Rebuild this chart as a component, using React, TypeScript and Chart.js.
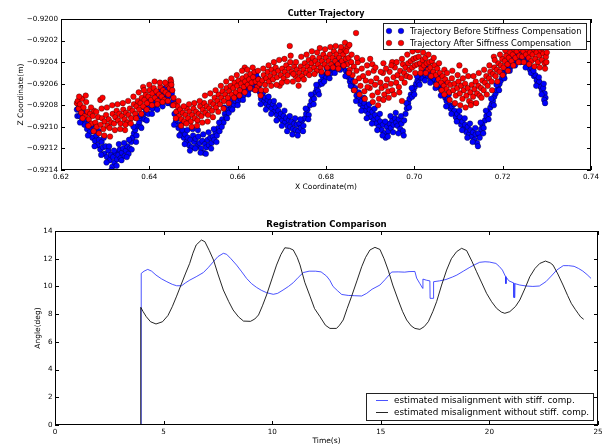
import React, { useEffect, useRef } from 'react';
import { Chart, registerables } from 'chart.js';

Chart.register(...registerables);

const FONT = '"DejaVu Sans", "Liberation Sans", sans-serif';

// ---------- Cutter Trajectory: [X coordinate (m), Z coordinate (m)] ----------
const beforeTrajectory: [number, number][] = [
  [0.6236, -0.92084], [0.6237, -0.92090], [0.6240, -0.92082], [0.6242, -0.92090], [0.6245, -0.92086], [0.6248, -0.92094],
  [0.6250, -0.92088], [0.6253, -0.92098], [0.6256, -0.92093], [0.6259, -0.92102], [0.6262, -0.92097], [0.6265, -0.92105],
  [0.6268, -0.92100], [0.6271, -0.92110], [0.6274, -0.92104], [0.6277, -0.92113], [0.6280, -0.92108], [0.6283, -0.92117],
  [0.6286, -0.92112], [0.6289, -0.92121], [0.6292, -0.92114], [0.6295, -0.92119], [0.6298, -0.92125], [0.6301, -0.92118],
  [0.6304, -0.92128], [0.6307, -0.92122], [0.6310, -0.92131], [0.6313, -0.92126], [0.6316, -0.92137], [0.6318, -0.92128],
  [0.6321, -0.92133], [0.6324, -0.92124], [0.6327, -0.92130], [0.6330, -0.92126], [0.6333, -0.92121], [0.6335, -0.92129],
  [0.6338, -0.92124], [0.6341, -0.92120], [0.6344, -0.92127], [0.6347, -0.92122], [0.6350, -0.92118], [0.6353, -0.92125],
  [0.6356, -0.92120], [0.6359, -0.92114], [0.6362, -0.92110], [0.6365, -0.92106], [0.6368, -0.92103], [0.6371, -0.92108],
  [0.6374, -0.92099], [0.6377, -0.92096], [0.6380, -0.92100], [0.6383, -0.92092], [0.6386, -0.92089], [0.6389, -0.92093],
  [0.6392, -0.92086], [0.6395, -0.92083], [0.6398, -0.92088], [0.6401, -0.92081], [0.6404, -0.92078], [0.6407, -0.92083],
  [0.6410, -0.92076], [0.6413, -0.92080], [0.6416, -0.92074], [0.6419, -0.92079], [0.6422, -0.92073], [0.6425, -0.92077],
  [0.6428, -0.92071], [0.6431, -0.92076], [0.6434, -0.92070], [0.6437, -0.92074], [0.6440, -0.92068], [0.6443, -0.92072],
  [0.6446, -0.92066], [0.6449, -0.92063], [0.6451, -0.92069], [0.6454, -0.92076], [0.6457, -0.92088], [0.6460, -0.92095],
  [0.6463, -0.92092], [0.6466, -0.92101], [0.6469, -0.92098], [0.6472, -0.92106], [0.6475, -0.92103], [0.6478, -0.92110],
  [0.6481, -0.92107], [0.6484, -0.92114], [0.6487, -0.92110], [0.6490, -0.92117], [0.6493, -0.92112], [0.6496, -0.92119],
  [0.6499, -0.92108], [0.6502, -0.92114], [0.6505, -0.92111], [0.6508, -0.92118], [0.6511, -0.92109], [0.6514, -0.92115],
  [0.6517, -0.92120], [0.6520, -0.92113], [0.6523, -0.92124], [0.6526, -0.92116], [0.6529, -0.92119], [0.6532, -0.92112],
  [0.6535, -0.92117], [0.6538, -0.92110], [0.6541, -0.92115], [0.6544, -0.92109], [0.6547, -0.92112], [0.6550, -0.92105],
  [0.6553, -0.92108], [0.6556, -0.92101], [0.6559, -0.92104], [0.6562, -0.92097], [0.6565, -0.92093], [0.6568, -0.92096],
  [0.6571, -0.92088], [0.6574, -0.92091], [0.6577, -0.92084], [0.6580, -0.92087], [0.6583, -0.92080], [0.6586, -0.92083],
  [0.6589, -0.92077], [0.6592, -0.92080], [0.6595, -0.92076], [0.6598, -0.92073], [0.6601, -0.92076], [0.6604, -0.92071],
  [0.6607, -0.92074], [0.6610, -0.92068], [0.6613, -0.92071], [0.6616, -0.92065], [0.6619, -0.92068], [0.6622, -0.92063],
  [0.6625, -0.92066], [0.6628, -0.92060], [0.6631, -0.92063], [0.6634, -0.92058], [0.6637, -0.92061], [0.6640, -0.92056],
  [0.6643, -0.92059], [0.6646, -0.92055], [0.6650, -0.92068], [0.6653, -0.92074], [0.6656, -0.92071], [0.6659, -0.92077],
  [0.6662, -0.92073], [0.6665, -0.92079], [0.6668, -0.92075], [0.6671, -0.92081], [0.6674, -0.92077], [0.6677, -0.92083],
  [0.6680, -0.92079], [0.6683, -0.92086], [0.6686, -0.92082], [0.6689, -0.92089], [0.6692, -0.92085], [0.6695, -0.92092],
  [0.6698, -0.92088], [0.6701, -0.92094], [0.6704, -0.92090], [0.6707, -0.92096], [0.6710, -0.92092], [0.6713, -0.92099],
  [0.6716, -0.92094], [0.6719, -0.92100], [0.6722, -0.92095], [0.6725, -0.92102], [0.6728, -0.92097], [0.6731, -0.92103],
  [0.6734, -0.92098], [0.6737, -0.92104], [0.6740, -0.92097], [0.6743, -0.92101], [0.6746, -0.92094], [0.6749, -0.92099],
  [0.6752, -0.92092], [0.6755, -0.92088], [0.6758, -0.92084], [0.6761, -0.92089], [0.6764, -0.92080], [0.6767, -0.92076],
  [0.6770, -0.92072], [0.6773, -0.92074], [0.6776, -0.92068], [0.6779, -0.92065], [0.6782, -0.92067], [0.6785, -0.92061],
  [0.6788, -0.92058], [0.6791, -0.92060], [0.6794, -0.92055], [0.6797, -0.92052], [0.6800, -0.92054], [0.6803, -0.92050],
  [0.6806, -0.92052], [0.6809, -0.92047], [0.6812, -0.92050], [0.6815, -0.92045], [0.6818, -0.92048], [0.6821, -0.92043],
  [0.6824, -0.92046], [0.6827, -0.92041], [0.6830, -0.92044], [0.6833, -0.92040], [0.6836, -0.92043], [0.6839, -0.92045],
  [0.6842, -0.92042], [0.6845, -0.92048], [0.6848, -0.92051], [0.6851, -0.92054], [0.6854, -0.92058], [0.6857, -0.92056],
  [0.6860, -0.92062], [0.6863, -0.92066], [0.6866, -0.92064], [0.6869, -0.92071], [0.6872, -0.92075], [0.6875, -0.92073],
  [0.6878, -0.92079], [0.6881, -0.92076], [0.6884, -0.92082], [0.6887, -0.92078], [0.6890, -0.92085], [0.6893, -0.92081],
  [0.6896, -0.92088], [0.6899, -0.92084], [0.6902, -0.92091], [0.6905, -0.92086], [0.6908, -0.92094], [0.6911, -0.92089],
  [0.6914, -0.92097], [0.6917, -0.92092], [0.6920, -0.92100], [0.6923, -0.92095], [0.6926, -0.92103], [0.6929, -0.92098],
  [0.6932, -0.92106], [0.6935, -0.92110], [0.6938, -0.92100], [0.6941, -0.92104], [0.6944, -0.92097], [0.6947, -0.92101],
  [0.6950, -0.92094], [0.6953, -0.92098], [0.6956, -0.92092], [0.6959, -0.92096], [0.6962, -0.92099], [0.6965, -0.92093],
  [0.6968, -0.92102], [0.6971, -0.92097], [0.6974, -0.92104], [0.6977, -0.92094], [0.6980, -0.92088], [0.6983, -0.92083],
  [0.6986, -0.92078], [0.6989, -0.92074], [0.6992, -0.92070], [0.6995, -0.92072], [0.6998, -0.92066], [0.7001, -0.92063],
  [0.7004, -0.92060], [0.7007, -0.92057], [0.7010, -0.92059], [0.7013, -0.92054], [0.7016, -0.92052], [0.7019, -0.92055],
  [0.7022, -0.92050], [0.7025, -0.92052], [0.7028, -0.92049], [0.7031, -0.92053], [0.7034, -0.92051], [0.7037, -0.92055],
  [0.7040, -0.92053], [0.7043, -0.92057], [0.7046, -0.92056], [0.7049, -0.92060], [0.7052, -0.92058], [0.7055, -0.92063],
  [0.7058, -0.92061], [0.7061, -0.92066], [0.7064, -0.92064], [0.7067, -0.92070], [0.7070, -0.92073], [0.7073, -0.92076],
  [0.7076, -0.92074], [0.7079, -0.92080], [0.7082, -0.92083], [0.7085, -0.92081], [0.7088, -0.92087], [0.7091, -0.92085],
  [0.7094, -0.92091], [0.7097, -0.92088], [0.7100, -0.92094], [0.7103, -0.92091], [0.7106, -0.92098], [0.7109, -0.92095],
  [0.7112, -0.92102], [0.7115, -0.92098], [0.7118, -0.92105], [0.7121, -0.92100], [0.7124, -0.92107], [0.7127, -0.92103],
  [0.7130, -0.92109], [0.7133, -0.92105], [0.7136, -0.92112], [0.7139, -0.92107], [0.7142, -0.92115], [0.7145, -0.92106],
  [0.7148, -0.92110], [0.7151, -0.92102], [0.7154, -0.92098], [0.7157, -0.92101], [0.7160, -0.92094], [0.7163, -0.92090],
  [0.7166, -0.92086], [0.7169, -0.92088], [0.7172, -0.92082], [0.7175, -0.92079], [0.7178, -0.92076], [0.7181, -0.92072],
  [0.7184, -0.92069], [0.7187, -0.92066], [0.7190, -0.92062], [0.7193, -0.92060], [0.7196, -0.92057], [0.7199, -0.92054],
  [0.7202, -0.92052], [0.7205, -0.92049], [0.7208, -0.92047], [0.7211, -0.92045], [0.7214, -0.92043], [0.7217, -0.92045],
  [0.7220, -0.92041], [0.7223, -0.92039], [0.7226, -0.92042], [0.7229, -0.92038], [0.7232, -0.92036], [0.7235, -0.92039],
  [0.7238, -0.92036], [0.7241, -0.92034], [0.7244, -0.92037], [0.7247, -0.92039], [0.7250, -0.92037], [0.7253, -0.92041],
  [0.7256, -0.92039], [0.7259, -0.92044], [0.7262, -0.92047], [0.7265, -0.92045], [0.7268, -0.92050], [0.7271, -0.92053],
  [0.7274, -0.92052], [0.7277, -0.92057], [0.7280, -0.92060], [0.7283, -0.92058], [0.7286, -0.92063], [0.7289, -0.92066],
  [0.7292, -0.92064], [0.7295, -0.92069], [0.7297, -0.92073], [0.7294, -0.92075],
  // wider scatter of the same run
  [0.6243, -0.92096], [0.6255, -0.92087], [0.6261, -0.92108], [0.6270, -0.92098], [0.6276, -0.92118], [0.6285, -0.92104],
  [0.6291, -0.92126], [0.6297, -0.92110], [0.6303, -0.92133], [0.6309, -0.92118], [0.6314, -0.92140], [0.6320, -0.92122],
  [0.6326, -0.92136], [0.6331, -0.92116], [0.6337, -0.92131], [0.6343, -0.92115], [0.6349, -0.92128], [0.6354, -0.92112],
  [0.6360, -0.92121], [0.6364, -0.92100], [0.6370, -0.92114], [0.6376, -0.92090], [0.6382, -0.92101], [0.6388, -0.92082],
  [0.6394, -0.92094], [0.6400, -0.92074], [0.6406, -0.92088], [0.6412, -0.92070], [0.6418, -0.92084], [0.6424, -0.92067],
  [0.6430, -0.92081], [0.6436, -0.92064], [0.6442, -0.92078], [0.6448, -0.92059], [0.6452, -0.92080], [0.6456, -0.92098],
  [0.6462, -0.92086], [0.6468, -0.92108], [0.6474, -0.92097], [0.6480, -0.92116], [0.6486, -0.92103], [0.6492, -0.92122],
  [0.6498, -0.92102], [0.6504, -0.92120], [0.6510, -0.92103], [0.6516, -0.92124], [0.6522, -0.92107], [0.6528, -0.92125],
  [0.6534, -0.92105], [0.6540, -0.92120], [0.6546, -0.92102], [0.6552, -0.92114], [0.6558, -0.92096], [0.6564, -0.92100],
  [0.6570, -0.92082], [0.6576, -0.92092], [0.6582, -0.92075], [0.6588, -0.92084], [0.6594, -0.92070], [0.6600, -0.92080],
  [0.6606, -0.92066], [0.6612, -0.92075], [0.6618, -0.92061], [0.6624, -0.92070], [0.6630, -0.92057], [0.6636, -0.92065],
  [0.6642, -0.92052], [0.6648, -0.92062], [0.6652, -0.92079], [0.6658, -0.92068], [0.6664, -0.92084], [0.6670, -0.92072],
  [0.6676, -0.92088], [0.6682, -0.92076], [0.6688, -0.92094], [0.6694, -0.92080], [0.6700, -0.92099], [0.6706, -0.92085],
  [0.6712, -0.92104], [0.6718, -0.92090], [0.6724, -0.92107], [0.6730, -0.92092], [0.6736, -0.92108], [0.6742, -0.92093],
  [0.6748, -0.92104], [0.6754, -0.92083], [0.6760, -0.92093], [0.6766, -0.92070], [0.6772, -0.92079], [0.6778, -0.92061],
  [0.6784, -0.92070], [0.6790, -0.92052], [0.6796, -0.92058], [0.6802, -0.92046], [0.6808, -0.92055], [0.6814, -0.92042],
  [0.6820, -0.92050], [0.6826, -0.92038], [0.6832, -0.92047], [0.6838, -0.92040], [0.6844, -0.92053], [0.6850, -0.92049],
  [0.6856, -0.92062], [0.6862, -0.92058], [0.6868, -0.92076], [0.6874, -0.92068], [0.6880, -0.92085], [0.6886, -0.92073],
  [0.6892, -0.92092], [0.6898, -0.92079], [0.6904, -0.92097], [0.6910, -0.92083], [0.6916, -0.92103], [0.6922, -0.92088],
  [0.6928, -0.92108], [0.6934, -0.92095], [0.6940, -0.92109], [0.6946, -0.92090], [0.6952, -0.92105], [0.6958, -0.92087],
  [0.6964, -0.92106], [0.6970, -0.92090], [0.6976, -0.92108], [0.6982, -0.92078], [0.6988, -0.92082], [0.6994, -0.92064],
  [0.7000, -0.92070], [0.7006, -0.92053], [0.7012, -0.92061], [0.7018, -0.92048], [0.7024, -0.92057], [0.7030, -0.92046],
  [0.7036, -0.92059], [0.7042, -0.92050], [0.7048, -0.92064], [0.7054, -0.92054], [0.7060, -0.92071], [0.7066, -0.92060],
  [0.7072, -0.92081], [0.7078, -0.92070], [0.7084, -0.92088], [0.7090, -0.92079], [0.7096, -0.92095], [0.7102, -0.92085],
  [0.7108, -0.92103], [0.7114, -0.92092], [0.7120, -0.92110], [0.7126, -0.92097], [0.7132, -0.92114], [0.7138, -0.92101],
  [0.7144, -0.92118], [0.7150, -0.92096], [0.7156, -0.92106], [0.7162, -0.92085], [0.7168, -0.92093], [0.7174, -0.92074],
  [0.7180, -0.92080], [0.7186, -0.92061], [0.7192, -0.92066], [0.7198, -0.92050], [0.7204, -0.92055], [0.7210, -0.92041],
  [0.7216, -0.92048], [0.7222, -0.92035], [0.7228, -0.92043], [0.7234, -0.92032], [0.7240, -0.92040], [0.7246, -0.92033],
  [0.7252, -0.92045], [0.7258, -0.92037], [0.7264, -0.92050], [0.7270, -0.92048], [0.7276, -0.92062], [0.7282, -0.92054],
  [0.7288, -0.92070], [0.7293, -0.92060], [0.7296, -0.92078],
];

const afterTrajectory: [number, number][] = [
  [0.6236, -0.92078], [0.6238, -0.92076], [0.6240, -0.92083], [0.6243, -0.92079], [0.6246, -0.92087], [0.6248, -0.92074],
  [0.6251, -0.92082], [0.6254, -0.92090], [0.6257, -0.92077], [0.6260, -0.92086], [0.6263, -0.92093], [0.6266, -0.92088],
  [0.6269, -0.92097], [0.6272, -0.92090], [0.6275, -0.92085], [0.6278, -0.92096], [0.6281, -0.92100], [0.6284, -0.92091],
  [0.6289, -0.92075], [0.6294, -0.92073], [0.6290, -0.92098], [0.6293, -0.92092], [0.6296, -0.92102], [0.6299, -0.92095],
  [0.6302, -0.92089], [0.6305, -0.92099], [0.6308, -0.92093], [0.6311, -0.92109], [0.6314, -0.92096], [0.6317, -0.92088],
  [0.6320, -0.92097], [0.6323, -0.92091], [0.6326, -0.92085], [0.6329, -0.92094], [0.6332, -0.92088], [0.6335, -0.92097],
  [0.6338, -0.92090], [0.6341, -0.92084], [0.6344, -0.92093], [0.6345, -0.92103], [0.6347, -0.92087], [0.6350, -0.92096],
  [0.6353, -0.92089], [0.6356, -0.92083], [0.6359, -0.92092], [0.6362, -0.92085], [0.6365, -0.92079], [0.6368, -0.92088],
  [0.6371, -0.92081], [0.6374, -0.92076], [0.6377, -0.92084], [0.6380, -0.92078], [0.6383, -0.92073], [0.6386, -0.92063],
  [0.6386, -0.92081], [0.6389, -0.92075], [0.6392, -0.92070], [0.6395, -0.92078], [0.6398, -0.92072], [0.6401, -0.92066],
  [0.6404, -0.92075], [0.6407, -0.92069], [0.6410, -0.92064], [0.6413, -0.92073], [0.6416, -0.92067], [0.6419, -0.92076],
  [0.6422, -0.92070], [0.6425, -0.92063], [0.6428, -0.92072], [0.6431, -0.92066], [0.6434, -0.92075], [0.6437, -0.92068],
  [0.6440, -0.92061], [0.6443, -0.92070], [0.6446, -0.92064], [0.6448, -0.92056], [0.6449, -0.92058], [0.6452, -0.92066],
  [0.6455, -0.92073], [0.6458, -0.92079], [0.6461, -0.92086], [0.6464, -0.92081], [0.6467, -0.92090], [0.6470, -0.92084],
  [0.6473, -0.92093], [0.6476, -0.92087], [0.6479, -0.92095], [0.6482, -0.92089], [0.6485, -0.92083], [0.6488, -0.92092],
  [0.6491, -0.92086], [0.6494, -0.92095], [0.6497, -0.92089], [0.6500, -0.92083], [0.6503, -0.92092], [0.6506, -0.92086],
  [0.6509, -0.92094], [0.6512, -0.92088], [0.6515, -0.92081], [0.6518, -0.92090], [0.6521, -0.92084], [0.6524, -0.92078],
  [0.6527, -0.92087], [0.6530, -0.92081], [0.6533, -0.92089], [0.6536, -0.92083], [0.6539, -0.92077], [0.6542, -0.92085],
  [0.6545, -0.92079], [0.6548, -0.92073], [0.6551, -0.92082], [0.6554, -0.92076], [0.6557, -0.92070], [0.6560, -0.92079],
  [0.6563, -0.92073], [0.6566, -0.92067], [0.6569, -0.92076], [0.6572, -0.92070], [0.6575, -0.92064], [0.6578, -0.92073],
  [0.6581, -0.92067], [0.6584, -0.92062], [0.6587, -0.92070], [0.6590, -0.92064], [0.6593, -0.92059], [0.6596, -0.92068],
  [0.6599, -0.92062], [0.6602, -0.92057], [0.6605, -0.92066], [0.6608, -0.92060], [0.6611, -0.92055], [0.6614, -0.92063],
  [0.6616, -0.92045], [0.6617, -0.92058], [0.6620, -0.92053], [0.6623, -0.92061], [0.6626, -0.92056], [0.6629, -0.92051],
  [0.6632, -0.92059], [0.6635, -0.92054], [0.6638, -0.92049], [0.6641, -0.92058], [0.6644, -0.92063], [0.6647, -0.92056],
  [0.6650, -0.92060], [0.6653, -0.92066], [0.6656, -0.92057], [0.6659, -0.92052], [0.6662, -0.92061], [0.6665, -0.92055],
  [0.6668, -0.92049], [0.6671, -0.92058], [0.6674, -0.92053], [0.6677, -0.92047], [0.6680, -0.92056], [0.6683, -0.92050],
  [0.6686, -0.92045], [0.6689, -0.92054], [0.6692, -0.92048], [0.6695, -0.92062], [0.6698, -0.92052], [0.6701, -0.92046],
  [0.6704, -0.92055], [0.6707, -0.92049], [0.6710, -0.92043], [0.6713, -0.92052], [0.6716, -0.92046], [0.6718, -0.92025],
  [0.6719, -0.92040], [0.6722, -0.92049], [0.6725, -0.92058], [0.6728, -0.92044], [0.6731, -0.92053], [0.6734, -0.92047],
  [0.6737, -0.92056], [0.6740, -0.92050], [0.6743, -0.92044], [0.6746, -0.92053], [0.6749, -0.92047], [0.6752, -0.92041],
  [0.6755, -0.92050], [0.6758, -0.92044], [0.6761, -0.92038], [0.6764, -0.92047], [0.6767, -0.92041], [0.6770, -0.92036],
  [0.6773, -0.92045], [0.6776, -0.92039], [0.6779, -0.92048], [0.6782, -0.92042], [0.6785, -0.92036], [0.6786, -0.92027],
  [0.6788, -0.92045], [0.6791, -0.92039], [0.6794, -0.92033], [0.6797, -0.92042], [0.6800, -0.92036], [0.6803, -0.92045],
  [0.6806, -0.92039], [0.6809, -0.92033], [0.6812, -0.92042], [0.6815, -0.92036], [0.6818, -0.92030], [0.6821, -0.92039],
  [0.6824, -0.92033], [0.6827, -0.92042], [0.6830, -0.92036], [0.6833, -0.92030], [0.6836, -0.92039], [0.6839, -0.92033],
  [0.6842, -0.92028], [0.6843, -0.92022], [0.6845, -0.92037], [0.6848, -0.92042], [0.6849, -0.92026], [0.6851, -0.92036],
  [0.6853, -0.92024], [0.6854, -0.92047], [0.6857, -0.92040], [0.6860, -0.92052], [0.6863, -0.92044], [0.6866, -0.92058],
  [0.6868, -0.92013], [0.6869, -0.92048], [0.6872, -0.92040], [0.6875, -0.92055], [0.6878, -0.92062], [0.6881, -0.92046],
  [0.6884, -0.92053], [0.6887, -0.92067], [0.6890, -0.92057], [0.6893, -0.92043], [0.6896, -0.92050], [0.6899, -0.92064],
  [0.6902, -0.92058], [0.6905, -0.92071], [0.6905, -0.92042], [0.6908, -0.92048], [0.6911, -0.92061], [0.6914, -0.92055],
  [0.6917, -0.92068], [0.6920, -0.92074], [0.6923, -0.92059], [0.6926, -0.92064], [0.6929, -0.92050], [0.6930, -0.92041],
  [0.6932, -0.92070], [0.6935, -0.92062], [0.6938, -0.92056], [0.6941, -0.92067], [0.6944, -0.92049], [0.6947, -0.92060],
  [0.6950, -0.92066], [0.6950, -0.92040], [0.6953, -0.92054], [0.6956, -0.92045], [0.6959, -0.92059], [0.6962, -0.92052],
  [0.6965, -0.92063], [0.6968, -0.92048], [0.6971, -0.92055], [0.6972, -0.92076], [0.6974, -0.92042], [0.6977, -0.92050],
  [0.6980, -0.92045], [0.6983, -0.92053], [0.6986, -0.92041], [0.6989, -0.92047], [0.6992, -0.92039], [0.6995, -0.92045],
  [0.6998, -0.92037], [0.7001, -0.92043], [0.7004, -0.92036], [0.7007, -0.92042], [0.7010, -0.92035], [0.7013, -0.92041],
  [0.7016, -0.92046], [0.7019, -0.92038], [0.7022, -0.92043], [0.7025, -0.92036], [0.7028, -0.92041], [0.7031, -0.92047],
  [0.7034, -0.92040], [0.7037, -0.92045], [0.7040, -0.92039], [0.7043, -0.92049], [0.7046, -0.92043], [0.7049, -0.92052],
  [0.7052, -0.92046], [0.7055, -0.92056], [0.7058, -0.92050], [0.7061, -0.92059], [0.7064, -0.92053], [0.7067, -0.92062],
  [0.7068, -0.92047], [0.7070, -0.92056], [0.7073, -0.92065], [0.7076, -0.92059], [0.7079, -0.92068], [0.7082, -0.92061],
  [0.7085, -0.92055], [0.7088, -0.92066], [0.7091, -0.92060], [0.7094, -0.92071], [0.7097, -0.92064], [0.7100, -0.92058],
  [0.7102, -0.92043], [0.7103, -0.92069], [0.7106, -0.92062], [0.7109, -0.92074], [0.7112, -0.92066], [0.7115, -0.92048],
  [0.7115, -0.92060], [0.7118, -0.92071], [0.7121, -0.92064], [0.7124, -0.92076], [0.7127, -0.92068], [0.7129, -0.92078],
  [0.7130, -0.92061], [0.7133, -0.92072], [0.7136, -0.92065], [0.7139, -0.92058], [0.7142, -0.92069], [0.7145, -0.92062],
  [0.7148, -0.92071], [0.7151, -0.92064], [0.7154, -0.92057], [0.7157, -0.92066], [0.7160, -0.92059], [0.7163, -0.92053],
  [0.7166, -0.92062], [0.7169, -0.92055], [0.7172, -0.92049], [0.7175, -0.92058], [0.7178, -0.92051], [0.7180, -0.92035],
  [0.7181, -0.92045], [0.7184, -0.92053], [0.7187, -0.92047], [0.7190, -0.92041], [0.7193, -0.92049], [0.7196, -0.92043],
  [0.7199, -0.92037], [0.7202, -0.92045], [0.7205, -0.92039], [0.7208, -0.92034], [0.7211, -0.92042], [0.7214, -0.92036],
  [0.7217, -0.92031], [0.7220, -0.92039], [0.7223, -0.92033], [0.7226, -0.92028], [0.7229, -0.92036], [0.7232, -0.92030],
  [0.7235, -0.92026], [0.7238, -0.92034], [0.7241, -0.92028], [0.7244, -0.92035], [0.7247, -0.92030], [0.7250, -0.92025],
  [0.7253, -0.92033], [0.7256, -0.92028], [0.7259, -0.92036], [0.7262, -0.92031], [0.7265, -0.92039], [0.7268, -0.92033],
  [0.7271, -0.92028], [0.7274, -0.92037], [0.7277, -0.92031], [0.7280, -0.92040], [0.7283, -0.92034], [0.7286, -0.92029],
  [0.7289, -0.92038], [0.7292, -0.92032], [0.7295, -0.92041], [0.7298, -0.92035], [0.7300, -0.92031],
  // wider scatter of the same run
  [0.6241, -0.92072], [0.6249, -0.92092], [0.6256, -0.92071], [0.6262, -0.92099], [0.6268, -0.92082], [0.6274, -0.92104],
  [0.6280, -0.92086], [0.6286, -0.92106], [0.6292, -0.92083], [0.6298, -0.92108], [0.6304, -0.92082], [0.6310, -0.92101],
  [0.6316, -0.92080], [0.6322, -0.92103], [0.6328, -0.92079], [0.6334, -0.92102], [0.6340, -0.92078], [0.6346, -0.92098],
  [0.6352, -0.92076], [0.6358, -0.92097], [0.6364, -0.92072], [0.6370, -0.92092], [0.6376, -0.92068], [0.6382, -0.92088],
  [0.6388, -0.92066], [0.6394, -0.92084], [0.6400, -0.92061], [0.6406, -0.92080], [0.6412, -0.92058], [0.6418, -0.92079],
  [0.6424, -0.92059], [0.6430, -0.92077], [0.6436, -0.92059], [0.6442, -0.92076], [0.6450, -0.92061], [0.6454, -0.92080],
  [0.6460, -0.92092], [0.6466, -0.92076], [0.6472, -0.92099], [0.6478, -0.92081], [0.6484, -0.92097], [0.6490, -0.92079],
  [0.6496, -0.92100], [0.6502, -0.92078], [0.6508, -0.92099], [0.6514, -0.92076], [0.6520, -0.92096], [0.6526, -0.92071],
  [0.6532, -0.92095], [0.6538, -0.92069], [0.6544, -0.92091], [0.6550, -0.92066], [0.6556, -0.92086], [0.6562, -0.92062],
  [0.6568, -0.92083], [0.6574, -0.92058], [0.6580, -0.92078], [0.6586, -0.92055], [0.6592, -0.92073], [0.6598, -0.92052],
  [0.6604, -0.92071], [0.6610, -0.92048], [0.6616, -0.92068], [0.6622, -0.92047], [0.6628, -0.92064], [0.6634, -0.92045],
  [0.6640, -0.92066], [0.6646, -0.92048], [0.6652, -0.92071], [0.6658, -0.92046], [0.6664, -0.92066], [0.6670, -0.92043],
  [0.6676, -0.92062], [0.6682, -0.92040], [0.6688, -0.92061], [0.6694, -0.92038], [0.6700, -0.92059], [0.6706, -0.92037],
  [0.6712, -0.92058], [0.6720, -0.92034], [0.6726, -0.92051], [0.6732, -0.92040], [0.6738, -0.92062], [0.6744, -0.92035],
  [0.6750, -0.92056], [0.6756, -0.92033], [0.6762, -0.92052], [0.6768, -0.92030], [0.6774, -0.92051], [0.6780, -0.92031],
  [0.6790, -0.92049], [0.6798, -0.92028], [0.6804, -0.92050], [0.6810, -0.92026], [0.6816, -0.92045], [0.6822, -0.92025],
  [0.6828, -0.92046], [0.6834, -0.92026], [0.6840, -0.92043], [0.6846, -0.92030], [0.6852, -0.92050], [0.6858, -0.92033],
  [0.6864, -0.92066], [0.6870, -0.92036], [0.6876, -0.92070], [0.6882, -0.92038], [0.6888, -0.92074], [0.6894, -0.92063],
  [0.6900, -0.92037], [0.6906, -0.92077], [0.6912, -0.92045], [0.6918, -0.92080], [0.6924, -0.92049], [0.6930, -0.92075],
  [0.6936, -0.92046], [0.6942, -0.92073], [0.6948, -0.92043], [0.6954, -0.92070], [0.6960, -0.92040], [0.6966, -0.92068],
  [0.6972, -0.92037], [0.6978, -0.92059], [0.6984, -0.92033], [0.6990, -0.92054], [0.6996, -0.92030], [0.7002, -0.92050],
  [0.7008, -0.92029], [0.7014, -0.92050], [0.7020, -0.92031], [0.7026, -0.92050], [0.7032, -0.92033], [0.7038, -0.92053],
  [0.7044, -0.92036], [0.7050, -0.92061], [0.7056, -0.92041], [0.7062, -0.92066], [0.7068, -0.92070], [0.7074, -0.92050],
  [0.7080, -0.92075], [0.7086, -0.92048], [0.7092, -0.92078], [0.7098, -0.92052], [0.7104, -0.92080], [0.7110, -0.92055],
  [0.7116, -0.92082], [0.7122, -0.92053], [0.7128, -0.92080], [0.7134, -0.92053], [0.7140, -0.92078], [0.7146, -0.92050],
  [0.7152, -0.92073], [0.7158, -0.92047], [0.7164, -0.92070], [0.7170, -0.92043], [0.7176, -0.92066], [0.7182, -0.92038],
  [0.7188, -0.92058], [0.7194, -0.92033], [0.7200, -0.92052], [0.7206, -0.92029], [0.7212, -0.92048], [0.7218, -0.92025],
  [0.7224, -0.92043], [0.7230, -0.92023], [0.7236, -0.92040], [0.7242, -0.92022], [0.7248, -0.92040], [0.7254, -0.92024],
  [0.7260, -0.92042], [0.7266, -0.92026], [0.7272, -0.92044], [0.7278, -0.92025], [0.7284, -0.92045], [0.7290, -0.92027],
  [0.7296, -0.92046], [0.7299, -0.92040],
];

// ---------- Registration Comparison: [Time (s), Angle (deg)] ----------
const withStiffComp: [number, number][] = [
  [0, 0], [3.97, 0], [3.97, 10.94], [4.1, 11.1], [4.27, 11.23], [4.45, 11.1], [4.65, 10.82], [4.9, 10.55],
  [5.15, 10.34], [5.4, 10.15], [5.6, 10.05], [5.83, 10.05], [6.0, 10.25], [6.21, 10.46], [6.5, 10.7], [6.83, 11.0],
  [7.05, 11.35], [7.29, 11.78], [7.5, 12.15], [7.75, 12.39], [7.9, 12.32], [8.1, 12.0], [8.36, 11.54], [8.6, 11.05],
  [8.82, 10.58], [9.05, 10.2], [9.28, 9.93], [9.5, 9.72], [9.74, 9.55], [10.05, 9.43], [10.25, 9.5], [10.5, 9.74],
  [10.75, 10.0], [10.97, 10.27], [11.2, 10.65], [11.43, 11.0], [11.7, 11.1], [12.0, 11.1], [12.25, 11.05], [12.5, 10.75],
  [12.65, 10.45], [12.8, 10.0], [13.0, 9.7], [13.2, 9.42], [13.5, 9.35], [13.8, 9.33], [14.12, 9.31], [14.35, 9.5],
  [14.6, 9.8], [14.96, 10.1], [15.2, 10.5], [15.5, 11.04], [15.8, 11.05], [16.1, 11.03], [16.3, 11.07], [16.57, 11.08],
  [16.65, 10.6], [16.8, 10.2], [16.93, 9.86], [16.94, 10.53], [17.1, 10.45], [17.26, 10.4], [17.27, 9.14], [17.42, 9.14],
  [17.43, 10.34], [17.7, 10.4], [18.0, 10.5], [18.3, 10.68], [18.5, 10.82], [18.8, 11.1], [19.1, 11.38], [19.3, 11.55],
  [19.55, 11.74], [19.8, 11.78], [20.0, 11.76], [20.3, 11.66], [20.45, 11.45], [20.6, 11.18], [20.74, 10.72], [20.76, 10.2],
  [20.78, 10.65], [20.9, 10.4], [21.12, 10.25], [21.13, 9.2], [21.17, 9.2], [21.18, 10.2], [21.4, 10.1], [21.7, 10.03],
  [22.0, 10.0], [22.3, 10.03], [22.6, 10.34], [22.85, 10.75], [23.1, 11.18], [23.4, 11.5], [23.65, 11.5], [23.9, 11.45],
  [24.1, 11.3], [24.3, 11.11], [24.5, 10.85], [24.68, 10.58],
];

const withoutStiffComp: [number, number][] = [
  [0, 0], [3.95, 0], [3.95, 8.49], [4.05, 8.2], [4.2, 7.82], [4.4, 7.45], [4.65, 7.29], [4.95, 7.45], [5.2, 7.9],
  [5.4, 8.54], [5.6, 9.3], [5.8, 10.1], [6.0, 10.9], [6.2, 11.66], [6.35, 12.4], [6.5, 12.99], [6.74, 13.35],
  [6.9, 13.23], [7.1, 12.6], [7.3, 11.9], [7.5, 10.9], [7.75, 9.74], [8.0, 8.9], [8.2, 8.3], [8.45, 7.8], [8.68, 7.5],
  [9.0, 7.48], [9.2, 7.65], [9.37, 7.94], [9.55, 8.6], [9.74, 9.38], [10.0, 10.6], [10.2, 11.54], [10.4, 12.3],
  [10.58, 12.79], [10.8, 12.75], [10.97, 12.63], [11.15, 12.1], [11.28, 11.55], [11.5, 10.3], [11.74, 9.3], [11.95, 8.4],
  [12.2, 7.82], [12.45, 7.2], [12.66, 6.97], [12.96, 6.97], [13.1, 7.2], [13.27, 7.58], [13.45, 8.4], [13.65, 9.26],
  [13.9, 10.4], [14.12, 11.42], [14.3, 12.1], [14.5, 12.63], [14.73, 12.82], [14.96, 12.67], [15.15, 12.0], [15.34, 11.18],
  [15.55, 10.1], [15.8, 9.02], [16.0, 8.2], [16.19, 7.58], [16.4, 7.15], [16.57, 6.97], [16.8, 6.9], [17.0, 7.1],
  [17.19, 7.46], [17.4, 8.2], [17.57, 8.9], [17.8, 10.1], [18.03, 11.18], [18.25, 12.0], [18.49, 12.51], [18.72, 12.75],
  [18.95, 12.59], [19.2, 11.8], [19.41, 11.06], [19.65, 10.25], [19.87, 9.5], [20.1, 8.9], [20.33, 8.42], [20.55, 8.15],
  [20.71, 8.06], [20.94, 8.18], [21.2, 8.55], [21.4, 9.02], [21.65, 9.9], [21.86, 10.7], [22.1, 11.3], [22.32, 11.66],
  [22.58, 11.83], [22.8, 11.7], [22.93, 11.54], [23.15, 10.9], [23.39, 10.1], [23.6, 9.35], [23.77, 8.78], [23.95, 8.35],
  [24.08, 8.06], [24.2, 7.8], [24.34, 7.63],
];

// axis ranges and tick steps
const trajXRange = [0.62, 0.74];
const trajXStep = 0.02;
const trajZRange = [-0.9214, -0.92];
const trajZStep = 0.0002;
const timeRange = [0, 25];
const timeStep = 5;
const angleRange = [0, 14];
const angleStep = 2;

const trajLabels = ['Trajectory Before Stiffness Compensation', 'Trajectory After Siffness Compensation'];
const regLabels = ['estimated misalignment with stiff. comp.', 'estimated misalignment without stiff. comp.'];

const toXY = (arr: [number, number][]) => arr.map(([x, y]) => ({ x, y }));

// matplotlib-like decorations: frame, inward ticks, titles, framed legend
const mplDecor = {
  id: 'mplDecor',
  afterDraw(chart: any, _args: any, o: any) {
    const { ctx, chartArea: a, scales } = chart;
    ctx.save();
    ctx.strokeStyle = '#000';
    ctx.lineWidth = 1;
    ctx.strokeRect(a.left + 0.5, a.top + 0.5, a.right - a.left - 1, a.bottom - a.top - 1);
    const tl = 4;
    ctx.beginPath();
    scales.x.ticks.forEach((t: any) => {
      const x = Math.round(scales.x.getPixelForValue(t.value)) + 0.5;
      ctx.moveTo(x, a.bottom); ctx.lineTo(x, a.bottom - tl);
      ctx.moveTo(x, a.top); ctx.lineTo(x, a.top + tl);
    });
    scales.y.ticks.forEach((t: any) => {
      const y = Math.round(scales.y.getPixelForValue(t.value)) + 0.5;
      ctx.moveTo(a.left, y); ctx.lineTo(a.left + tl, y);
      ctx.moveTo(a.right, y); ctx.lineTo(a.right - tl, y);
    });
    ctx.stroke();

    ctx.fillStyle = '#000';
    ctx.textAlign = 'center';
    ctx.textBaseline = 'middle';
    const cx = (a.left + a.right) / 2;
    ctx.font = `bold ${o.titleSize}px ${FONT}`;
    ctx.fillText(o.title, cx, o.titleY);
    ctx.font = `${o.labelSize}px ${FONT}`;
    ctx.fillText(o.xLabel, cx, o.xLabelY);
    ctx.save();
    ctx.translate(o.yLabelX, (a.top + a.bottom) / 2);
    ctx.rotate(-Math.PI / 2);
    ctx.fillText(o.yLabel, 0, 0);
    ctx.restore();

    const L = o.legend;
    ctx.fillStyle = '#fff';
    ctx.fillRect(L.x, L.y, L.w, L.h);
    ctx.strokeStyle = '#222';
    ctx.strokeRect(L.x + 0.5, L.y + 0.5, L.w - 1, L.h - 1);
    ctx.font = `${L.size}px ${FONT}`;
    ctx.textAlign = 'left';
    L.order.forEach((di: number, i: number) => {
      const ds = chart.data.datasets[di];
      const y = L.rows[i];
      if (L.kind === 'marker') {
        L.markerXs.forEach((mx: number) => {
          ctx.beginPath();
          ctx.arc(mx, y, 2.8, 0, Math.PI * 2);
          ctx.fillStyle = ds.backgroundColor;
          ctx.fill();
          ctx.lineWidth = 0.6;
          ctx.strokeStyle = 'rgba(0,0,0,0.6)';
          ctx.stroke();
        });
      } else {
        ctx.beginPath();
        ctx.strokeStyle = ds.borderColor;
        ctx.lineWidth = 1;
        ctx.moveTo(L.lineX[0], y + 0.5);
        ctx.lineTo(L.lineX[1], y + 0.5);
        ctx.stroke();
      }
      ctx.fillStyle = '#000';
      ctx.fillText(ds.label, L.textX, y + 0.5);
    });
    ctx.restore();
  },
};

const tickFont = { family: FONT, size: 7.2 };

function topConfig(): any {
  return {
    type: 'scatter',
    data: {
      datasets: [
        {
          label: trajLabels[0],
          data: toXY(beforeTrajectory),
          backgroundColor: '#0000ff',
          borderColor: 'rgba(0,0,0,0.6)',
          pointBorderWidth: 0.6,
          pointRadius: 2.8,
          order: 1,
          clip: 0,
        },
        {
          label: trajLabels[1],
          data: toXY(afterTrajectory),
          backgroundColor: '#ff0000',
          borderColor: 'rgba(0,0,0,0.6)',
          pointBorderWidth: 0.6,
          pointRadius: 2.8,
          order: 0,
          clip: 0,
        },
      ],
    },
    options: {
      responsive: false,
      animation: false,
      events: [],
      layout: { padding: { left: 0, right: 17, top: 19, bottom: 0 } },
      plugins: {
        legend: { display: false },
        tooltip: { enabled: false },
        mplDecor: {
          title: 'Cutter Trajectory', titleSize: 8, titleY: 14,
          xLabel: 'X Coordinate(m)', xLabelY: 187,
          yLabel: 'Z Coordinate(m)', yLabelX: 21, labelSize: 7.5,
          legend: {
            kind: 'marker', x: 383, y: 23, w: 204, h: 27, rows: [31, 43], order: [0, 1],
            markerXs: [389, 401], textX: 410, size: 8.3,
          },
        },
      },
      scales: {
        x: {
          type: 'linear', min: trajXRange[0], max: trajXRange[1],
          afterFit: (s: any) => { s.height = 35; },
          grid: { display: false, drawTicks: false },
          border: { display: false },
          ticks: {
            stepSize: trajXStep, autoSkip: false, maxRotation: 0, padding: 3, color: '#000', font: tickFont,
            callback: (v: number) => v.toFixed(2),
          },
        },
        y: {
          type: 'linear', min: trajZRange[0], max: trajZRange[1],
          afterFit: (s: any) => { s.width = 61; },
          grid: { display: false, drawTicks: false },
          border: { display: false },
          ticks: {
            stepSize: trajZStep, autoSkip: false, padding: 3, color: '#000', font: tickFont,
            callback: (v: number) => v.toFixed(4).replace('-', '\u2212'),
          },
        },
      },
    },
    plugins: [mplDecor],
  };
}

function bottomConfig(): any {
  return {
    type: 'scatter',
    data: {
      datasets: [
        {
          label: regLabels[0],
          data: toXY(withStiffComp),
          showLine: true,
          borderColor: 'rgba(30,40,255,0.8)',
          backgroundColor: 'rgba(30,40,255,0.8)',
          borderWidth: 1,
          pointRadius: 0,
          tension: 0,
          order: 1,
        },
        {
          label: regLabels[1],
          data: toXY(withoutStiffComp),
          showLine: true,
          borderColor: 'rgba(0,0,0,0.85)',
          backgroundColor: 'rgba(0,0,0,0.85)',
          borderWidth: 1,
          pointRadius: 0,
          tension: 0,
          order: 0,
        },
      ],
    },
    options: {
      responsive: false,
      animation: false,
      events: [],
      layout: { padding: { left: 0, right: 10, top: 26, bottom: 0 } },
      plugins: {
        legend: { display: false },
        tooltip: { enabled: false },
        mplDecor: {
          title: 'Registration Comparison', titleSize: 8.6, titleY: 20,
          xLabel: 'Time(s)', xLabelY: 236,
          yLabel: 'Angle(deg)', yLabelX: 38, labelSize: 7.5,
          legend: {
            kind: 'line', x: 366, y: 188, w: 228, h: 28, rows: [195, 207], order: [0, 1],
            lineX: [376, 388], textX: 394, size: 8.8,
          },
        },
      },
      scales: {
        x: {
          type: 'linear', min: timeRange[0], max: timeRange[1],
          afterFit: (s: any) => { s.height = 20; },
          grid: { display: false, drawTicks: false },
          border: { display: false },
          ticks: {
            stepSize: timeStep, autoSkip: false, maxRotation: 0, padding: 3, color: '#000', font: tickFont,
          },
        },
        y: {
          type: 'linear', min: angleRange[0], max: angleRange[1],
          afterFit: (s: any) => { s.width = 55; },
          grid: { display: false, drawTicks: false },
          border: { display: false },
          ticks: {
            stepSize: angleStep, autoSkip: false, padding: 2.5, color: '#000', font: tickFont,
          },
        },
      },
    },
    plugins: [mplDecor],
  };
}

export default function App() {
  const topRef = useRef<HTMLCanvasElement>(null);
  const botRef = useRef<HTMLCanvasElement>(null);
  useEffect(() => {
    const c1 = new Chart(topRef.current as HTMLCanvasElement, topConfig());
    const c2 = new Chart(botRef.current as HTMLCanvasElement, bottomConfig());
    return () => {
      c1.destroy();
      c2.destroy();
    };
  }, []);
  return (
    <div style={{ position: 'fixed', left: 0, top: 0, width: 608, height: 445, background: '#fff', overflow: 'hidden' }}>
      <canvas ref={topRef} width={608} height={205} style={{ position: 'absolute', left: 0, top: 0, display: 'block' }} />
      <canvas ref={botRef} width={608} height={240} style={{ position: 'absolute', left: 0, top: 205, display: 'block' }} />
    </div>
  );
}
